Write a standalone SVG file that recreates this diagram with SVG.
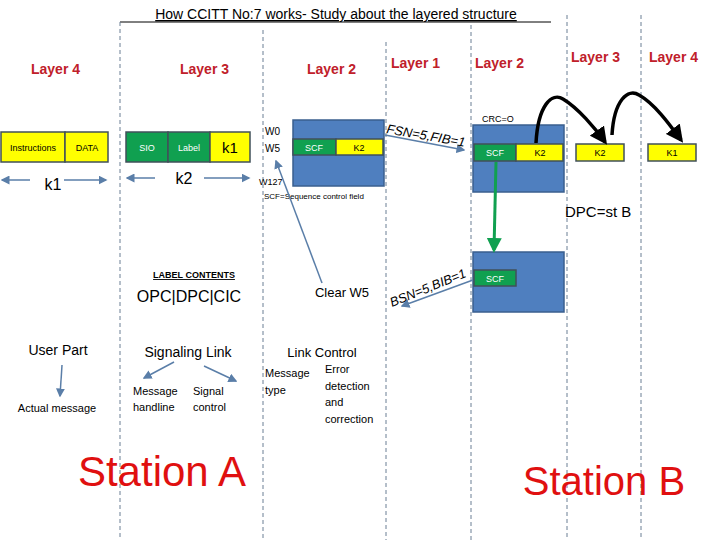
<svg xmlns="http://www.w3.org/2000/svg" width="720" height="540" viewBox="0 0 720 540">
<style>
text{font-family:"Liberation Sans","DejaVu Sans",sans-serif;fill:#000}
.d{stroke:#6a7f94;stroke-width:1;stroke-dasharray:4,3}
.L{fill:#c0202a;font-weight:bold;font-size:14px}
.y{fill:#ffff00;stroke:#40505a;stroke-width:1.5}
.g{fill:#10a050;stroke:#40505a;stroke-width:1.5}
.b{fill:#4f7fbf;stroke:#3a5f8f;stroke-width:1.5}
.a{stroke:#5a7ea8;stroke-width:1.5;fill:none}
.w{fill:#fff}
</style>
<defs>
<marker id="m" markerWidth="6" markerHeight="6" refX="5" refY="3" orient="auto"><path d="M0,0L6,3L0,6z" fill="#5a7ea8"/></marker>
<marker id="mk" markerWidth="5" markerHeight="5" refX="4" refY="2.5" orient="auto"><path d="M0,0L5,2.5L0,5z" fill="#000"/></marker>
<marker id="mg" markerWidth="5" markerHeight="5" refX="4" refY="2.5" orient="auto"><path d="M0,0L5,2.5L0,5z" fill="#10a050"/></marker>
</defs>
<text x="336" y="19" text-anchor="middle" font-size="14" text-decoration="underline">How CCITT No:7 works- Study about the layered structure</text>
<line x1="120" y1="22" x2="551" y2="22" stroke="#000" stroke-width="1"/>
<g id="dividers">
<line class="d" x1="120" y1="22" x2="120" y2="540"/>
<line class="d" x1="263" y1="30" x2="263" y2="540"/>
<line class="d" x1="386" y1="42" x2="386" y2="540"/>
<line class="d" x1="471" y1="25" x2="471" y2="540"/>
<line class="d" x1="567" y1="15" x2="567" y2="540"/>
<line class="d" x1="641" y1="15" x2="641" y2="540"/>
</g>
<g id="layers">
<text class="L" x="31" y="74">Layer 4</text>
<text class="L" x="180" y="74">Layer 3</text>
<text class="L" x="307" y="74">Layer 2</text>
<text class="L" x="391" y="68">Layer 1</text>
<text class="L" x="475" y="68">Layer 2</text>
<text class="L" x="571" y="62">Layer 3</text>
<text class="L" x="649" y="62">Layer 4</text>
</g>
<g id="stationA-l4">
<rect class="y" x="1" y="132" width="64" height="30"/><text x="33" y="151" font-size="9" text-anchor="middle">Instructions</text>
<rect class="y" x="65" y="132" width="43" height="30"/><text x="87" y="151" font-size="9" text-anchor="middle">DATA</text>
<text x="53" y="190" font-size="16" text-anchor="middle">k1</text>
</g>
<g id="stationA-l3">
<rect class="g" x="126" y="132" width="42" height="30"/><text class="w" x="147" y="151" font-size="9" text-anchor="middle">SIO</text>
<rect class="g" x="168" y="132" width="42" height="30"/><text class="w" x="189" y="151" font-size="9" text-anchor="middle">Label</text>
<rect class="y" x="210" y="132" width="40" height="30"/><text x="230" y="153" font-size="15" text-anchor="middle">k1</text>
<text x="184" y="184" font-size="16" text-anchor="middle">k2</text>
</g>
<g id="stationA-l2">
<rect class="b" x="293" y="120" width="91" height="66"/>
<rect class="g" x="293" y="139" width="43" height="16"/><text class="w" x="314" y="151" font-size="9" text-anchor="middle">SCF</text>
<rect class="y" x="336" y="139" width="47" height="16"/><text x="359" y="151" font-size="9" text-anchor="middle">K2</text>
<text x="265" y="135" font-size="10">W0</text>
<text x="265" y="152" font-size="10">W5</text>
<text x="259" y="185" font-size="9">W127</text>
<text x="264" y="199" font-size="8">SCF=Sequence control field</text>
</g>
<g id="stationB-l2">
<text x="482" y="122" font-size="9">CRC=O</text>
<rect class="b" x="473" y="125" width="91" height="67"/>
<rect class="g" x="474" y="144" width="42" height="17"/><text class="w" x="495" y="156" font-size="9" text-anchor="middle">SCF</text>
<rect class="y" x="516" y="144" width="47" height="17"/><text x="540" y="156" font-size="9" text-anchor="middle">K2</text>
<rect class="b" x="473" y="252" width="91" height="60"/>
<rect class="g" x="474" y="270" width="42" height="16"/><text class="w" x="495" y="282" font-size="9" text-anchor="middle">SCF</text>
</g>
<g id="stationB-l3l4">
<rect class="y" x="576" y="144" width="48" height="17"/><text x="600" y="156" font-size="9" text-anchor="middle">K2</text>
<rect class="y" x="648" y="144" width="48" height="17"/><text x="672" y="156" font-size="9" text-anchor="middle">K1</text>
<text x="565" y="217" font-size="15">DPC=st B</text>
</g>
<g id="connectors">
<line class="a" x1="30" y1="180" x2="2" y2="180" marker-end="url(#m)"/>
<line class="a" x1="64" y1="180" x2="106" y2="180" marker-end="url(#m)"/>
<line class="a" x1="155" y1="178" x2="127" y2="178" marker-end="url(#m)"/>
<line class="a" x1="204" y1="178" x2="249" y2="178" marker-end="url(#m)"/>
<line class="a" x1="322" y1="283" x2="276" y2="161" marker-end="url(#m)"/>
<line class="a" x1="385" y1="135" x2="464" y2="150" marker-end="url(#m)"/>
<line class="a" x1="473" y1="280" x2="402" y2="306" marker-end="url(#m)"/>
<line class="a" x1="62" y1="365" x2="60" y2="396" marker-end="url(#m)"/>
<line class="a" x1="174" y1="362" x2="144" y2="378" marker-end="url(#m)"/>
<line class="a" x1="204" y1="366" x2="236" y2="381" marker-end="url(#m)"/>
<path d="M496,162 L494,250" stroke="#10a050" stroke-width="3" fill="none" marker-end="url(#mg)"/>
<path d="M536,143 C538,105 552,92 563,99 C578,108 595,128 605,142" stroke="#000" stroke-width="3.5" fill="none" marker-end="url(#mk)"/>
<path d="M612,135 C614,100 628,88 639,95 C655,104 670,125 681,140" stroke="#000" stroke-width="3.5" fill="none" marker-end="url(#mk)"/>
</g>
<text x="386" y="133" font-size="13" font-style="italic" transform="rotate(10 386 133)">FSN=5,FIB=1</text>
<text x="392" y="307" font-size="13" font-style="italic" transform="rotate(-22 392 307)">BSN=5,BIB=1</text>
<g id="labels">
<text x="194" y="278" font-size="9" font-weight="bold" text-anchor="middle" text-decoration="underline">LABEL CONTENTS</text>
<text x="189" y="302" font-size="16" text-anchor="middle">OPC|DPC|CIC</text>
<text x="342" y="297" font-size="13" text-anchor="middle">Clear W5</text>
<text x="58" y="355" font-size="14" text-anchor="middle">User Part</text>
<text x="57" y="412" font-size="11" text-anchor="middle">Actual message</text>
<text x="188" y="357" font-size="14" text-anchor="middle">Signaling Link</text>
<text x="133" y="395" font-size="11">Message</text>
<text x="133" y="411" font-size="11">handline</text>
<text x="193" y="395" font-size="11">Signal</text>
<text x="193" y="411" font-size="11">control</text>
<text x="322" y="357" font-size="13" text-anchor="middle">Link Control</text>
<text x="265" y="377" font-size="11">Message</text>
<text x="265" y="394" font-size="11">type</text>
<text x="325" y="373" font-size="11">Error</text>
<text x="325" y="390" font-size="11">detection</text>
<text x="325" y="406" font-size="11">and</text>
<text x="325" y="423" font-size="11">correction</text>
<text x="162" y="486" font-size="42" text-anchor="middle" style="fill:#e01010">Station A</text>
<text x="604" y="495" font-size="40" text-anchor="middle" style="fill:#e01010">Station B</text>
</g>
</svg>
